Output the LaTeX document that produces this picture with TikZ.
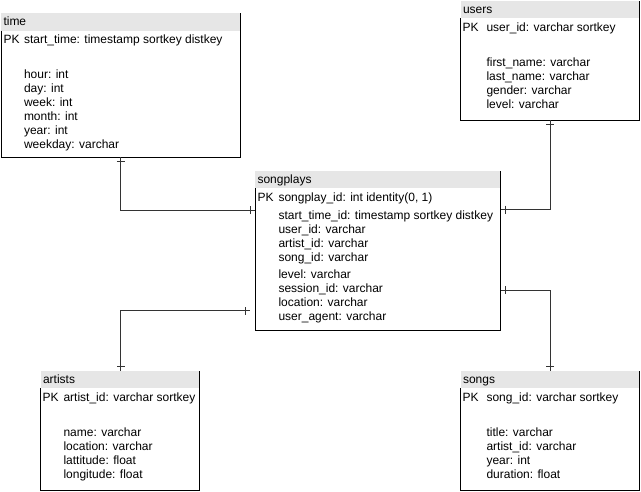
\documentclass[tikz,border=0pt]{standalone}
\usepackage{fontspec}
\setmainfont{Liberation Sans}
\usetikzlibrary{calc,decorations.markings}
\definecolor{headgray}{RGB}{230,230,230}
\definecolor{linegray}{RGB}{51,51,51}
\newcommand{\erbox}[6]{%
  \pgfmathsetmacro\erW{#4-#2}%
  \pgfmathsetmacro\erH{#5-#3-17.5}%
  \node[headbox, minimum width=\erW pt, anchor=north west] (#1h) at (#2,#3) {};
  \node[bodybox, minimum width=\erW pt, minimum height=\erH pt, anchor=north west] (#1) at (#1h.south west) {};
  \draw[border] (#1.north west) -- (#1.south west) -- (#1.south east) -- (#1h.north east);
  \node[txt] (#1t) at (#2+2.5,#3+12.5) {#6};
}
\begin{document}
\begin{tikzpicture}[x=1pt,y=-1pt,
  txt/.style={inner sep=0pt, outer sep=0pt, anchor=base west, font=\fontsize{12}{14}\selectfont},
  headbox/.style={fill=headgray, draw=none, inner sep=0pt, outer sep=0pt, minimum height=17.5pt},
  bodybox/.style={draw=none, inner sep=0pt, outer sep=0pt},
  border/.style={draw=black, line width=1pt},
  tickmark/.style={draw=linegray, line width=1pt},
  conn/.style={draw=linegray, line width=1pt, postaction={decorate},
    decoration={markings,
      mark=at position 4.5pt with {\draw[tickmark] (0,-4pt) -- (0,4pt);},
      mark=at position -4.5pt with {\draw[tickmark] (0,-4pt) -- (0,4pt);}}}]
\useasboundingbox (0,0) rectangle (641,491);
\fill[white] (0,0) rectangle (641,491);

% ---- time
\erbox{time}{1}{13}{240.5}{157}{time}
\node[txt] (timepk) at (3.5,43.5) {PK};
\node[txt] (time1) at (24,43.5) {start\_time: timestamp sortkey distkey};
\node[txt] (time2) at (24,78.5) {hour: int};
\node[txt] (time3) at (24,92.5) {day: int};
\node[txt] (time4) at (24,106.5) {week: int};
\node[txt] (time5) at (24,120.5) {month: int};
\node[txt] (time6) at (24,134.5) {year: int};
\node[txt] (time7) at (24,148.5) {weekday: varchar};

% ---- users
\erbox{users}{460.5}{0.5}{639.5}{120}{users}
\node[txt] (userspk) at (462.5,31) {PK};
\node[txt] (users1) at (486.5,31) {user\_id: varchar sortkey};
\node[txt] (users2) at (486.5,66) {first\_name: varchar};
\node[txt] (users3) at (486.5,80) {last\_name: varchar};
\node[txt] (users4) at (486.5,94) {gender: varchar};
\node[txt] (users5) at (486.5,108) {level: varchar};

% ---- songplays
\erbox{sp}{255}{170.5}{500.5}{330}{songplays}
\node[txt] (sppk) at (257.5,201) {PK};
\node[txt] (sp1) at (278.5,201) {songplay\_id: int identity(0, 1)};
\node[txt] (sp2) at (278.5,219.5) {start\_time\_id: timestamp sortkey distkey};
\node[txt] (sp3) at (278.5,233.5) {user\_id: varchar};
\node[txt] (sp4) at (278.5,247.5) {artist\_id: varchar};
\node[txt] (sp5) at (278.5,261.5) {song\_id: varchar};
\node[txt] (sp6) at (278.5,278.5) {level: varchar};
\node[txt] (sp7) at (278.5,292.5) {session\_id: varchar};
\node[txt] (sp8) at (278.5,306.5) {location: varchar};
\node[txt] (sp9) at (278.5,320.5) {user\_agent: varchar};

% ---- artists
\erbox{art}{40.5}{370.5}{199.5}{490}{artists}
\node[txt] (artpk) at (42.5,401) {PK};
\node[txt] (art1) at (63.5,401) {artist\_id: varchar sortkey};
\node[txt] (art2) at (63.5,436) {name: varchar};
\node[txt] (art3) at (63.5,450) {location: varchar};
\node[txt] (art4) at (63.5,464) {lattitude: float};
\node[txt] (art5) at (63.5,478) {longitude: float};

% ---- songs
\erbox{songs}{460.5}{370.5}{639.5}{490}{songs}
\node[txt] (songspk) at (462.5,401) {PK};
\node[txt] (songs1) at (486.5,401) {song\_id: varchar sortkey};
\node[txt] (songs2) at (486.5,436) {title: varchar};
\node[txt] (songs3) at (486.5,450) {artist\_id: varchar};
\node[txt] (songs4) at (486.5,464) {year: int};
\node[txt] (songs5) at (486.5,478) {duration: float};

% ---- connectors
\draw[conn] (time.south) |- ([yshift=-22pt]sp.north west);
\draw[conn] (users.south) |- ([yshift=-21.5pt]sp.north east);
\draw[conn] (arth.north -| time.south) |- ([xshift=-5pt,yshift=-122.5pt]sp.north west);
\draw[conn] (songsh.north -| users.south) |- ([yshift=-102pt]sp.north east);
\end{tikzpicture}
\end{document}
